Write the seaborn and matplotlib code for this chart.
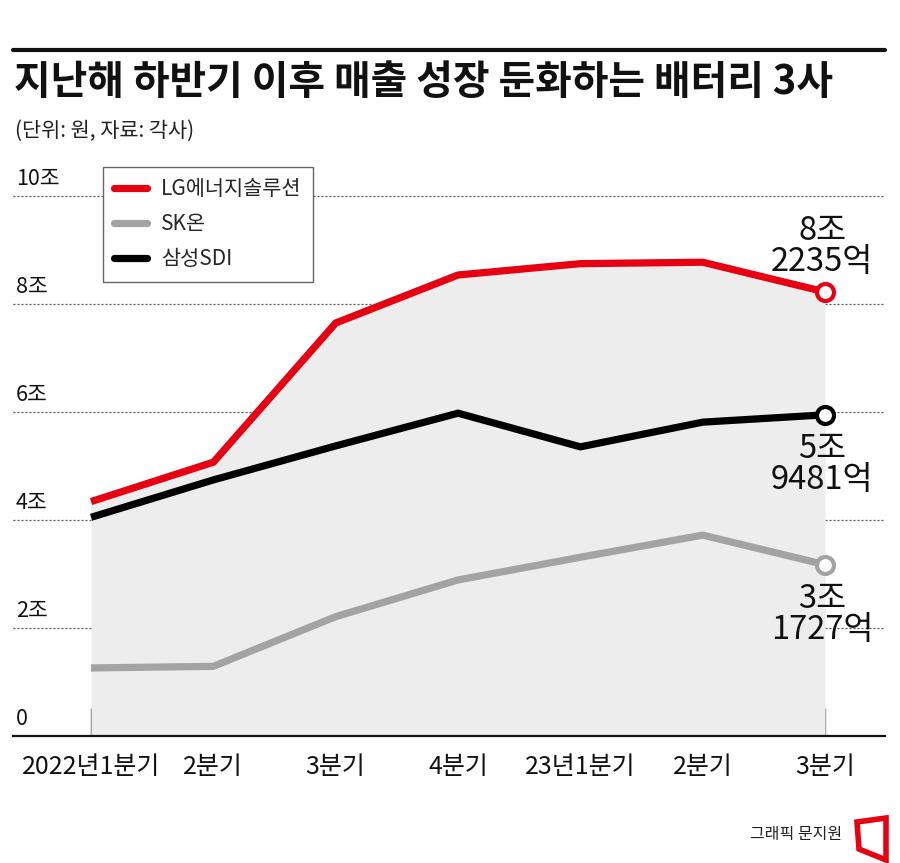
import matplotlib
matplotlib.use("Agg")
import matplotlib.pyplot as plt
import seaborn as sns
import pandas as pd
from matplotlib.lines import Line2D
from matplotlib.patches import Polygon

# ---- data ----
quarters = ["2022년1분기", "2분기", "3분기", "4분기", "23년1분기", "2분기 ", "3분기 "]
quarter_labels = ["2022년1분기", "2분기", "3분기", "4분기", "23년1분기", "2분기", "3분기"]
companies = ["LG에너지솔루션", "SK온", "삼성SDI"]
lg_sales = [4.3415, 5.0706, 7.6482, 8.5375, 8.7471, 8.7735, 8.2235]
sk_sales = [1.26, 1.29, 2.21, 2.89, 3.31, 3.72, 3.1727]
sdi_sales = [4.0496, 4.7425, 5.3720, 5.9783, 5.3548, 5.8120, 5.9481]
end_labels = ["8조\n2235억", "3조\n1727억", "5조\n9481억"]
y_ticks = [0, 2, 4, 6, 8, 10]
y_tick_labels = ["0", "2조", "4조", "6조", "8조", "10조"]
colors = ["#e60012", "#a3a3a3", "#000000"]

title = "지난해 하반기 이후 매출 성장 둔화하는 배터리 3사"
subtitle = "(단위: 원, 자료: 각사)"
credit = "그래픽 문지원"

sns.set_theme(style="white")
plt.rcParams["font.family"] = ["Noto Sans CJK KR", "DejaVu Sans"]

W, H, DPI = 900, 863, 100
fig = plt.figure(figsize=(W / DPI, H / DPI), dpi=DPI)
ax = fig.add_axes([13 / W, (H - 736) / H, (885 - 13) / W, (736 - 160) / H])

df = pd.DataFrame({
    "quarter": quarters * 3,
    "x": list(range(len(quarters))) * 3,
    "sales": lg_sales + sk_sales + sdi_sales,
    "company": [c for c in companies for _ in quarters],
})

ax.fill_between(range(len(quarters)), 0, lg_sales, color="#ededed", lw=0, zorder=1)

sns.lineplot(data=df, x="x", y="sales", hue="company", hue_order=companies,
             palette=colors, linewidth=5.2, sort=False, ax=ax, zorder=3,
             solid_capstyle="butt", solid_joinstyle="miter")

last = df[df["x"] == len(quarters) - 1]
for comp, col in zip(companies, colors):
    row = last[last["company"] == comp]
    ax.scatter(row["x"], row["sales"], s=150, facecolor="white", edgecolor=col,
               linewidth=3, zorder=5)

# end labels
offsets = {"LG에너지솔루션": (10, "bottom"), "SK온": (-13, "top"), "삼성SDI": (-13, "top")}
for comp, lab in zip(["LG에너지솔루션", "SK온", "삼성SDI"], end_labels):
    row = last[last["company"] == comp]
    dy, va = offsets[comp]
    ax.annotate(lab, (row["x"].iloc[0], row["sales"].iloc[0]), xytext=(-2, dy),
                textcoords="offset points", ha="center", va=va, fontsize=23.5,
                linespacing=0.98, color="#111111", zorder=6)

ax.set_xlim(-0.638, 6.49)
ax.set_ylim(0, (736 - 160) / 54)
ax.set_xticks(range(len(quarters)))
ax.set_xticklabels(quarter_labels, fontsize=18, color="#111111")
ax.tick_params(axis="x", direction="in", length=20, width=1, color="#666666", pad=13,
               bottom=True)
ax.xaxis.get_major_ticks()[0].tick1line.set_color("#111111")
ax.set_yticks(y_ticks)
ax.set_yticklabels([])
ax.tick_params(axis="y", length=0)
ax.yaxis.grid(True, linestyle=(0, (1.6, 1.6)), color="#555555", linewidth=0.9)
ax.xaxis.grid(False)
ax.set_xlabel("")
ax.set_ylabel("")
for s in ["top", "right", "left"]:
    ax.spines[s].set_visible(False)
ax.spines["bottom"].set_color("#111111")
ax.spines["bottom"].set_linewidth(1.6)
ax.set_axisbelow(True)

for v, lab in zip(y_ticks, y_tick_labels):
    ax.annotate(lab, (0.0, v), xycoords=("axes fraction", "data"), xytext=(2, 4),
                textcoords="offset points", ha="left", va="bottom", fontsize=15.5,
                color="#111111")

handles = [Line2D([0], [0], color=c, lw=5.2, solid_capstyle="round") for c in colors]
leg = ax.legend(handles, companies, loc="upper left",
                bbox_to_anchor=(90 / 872, (736 - 167) / 576), borderaxespad=0,
                fancybox=False, edgecolor="#666666", fontsize=15, handlelength=1.55,
                handletextpad=0.7, labelspacing=0.62, borderpad=0.55, framealpha=1)
leg.get_frame().set_linewidth(1.0)
leg.set_zorder(10)

# header
fig.add_artist(Line2D([13 / W, 885 / W], [1 - 50 / H, 1 - 50 / H], color="#111111", lw=3))
fig.text(14 / W, 1 - 82 / H, title, fontsize=28.7, fontweight="bold", va="center",
         ha="left", color="#111111")
fig.text(15 / W, 1 - 131 / H, subtitle, fontsize=15, va="center", ha="left",
         color="#222222")
fig.text(842 / W, 1 - 834 / H, credit, fontsize=11.5, va="center", ha="right",
         color="#222222")

logo = Polygon([[857 / W, 1 - 822 / H], [886 / W, 1 - 818 / H], [886 / W, 1 - 860 / H],
                [859 / W, 1 - 849 / H]], closed=True, facecolor="white",
               edgecolor="#e60012", lw=4, transform=fig.transFigure, joinstyle="miter")
fig.add_artist(logo)

fig.savefig("out.png", dpi=DPI)
